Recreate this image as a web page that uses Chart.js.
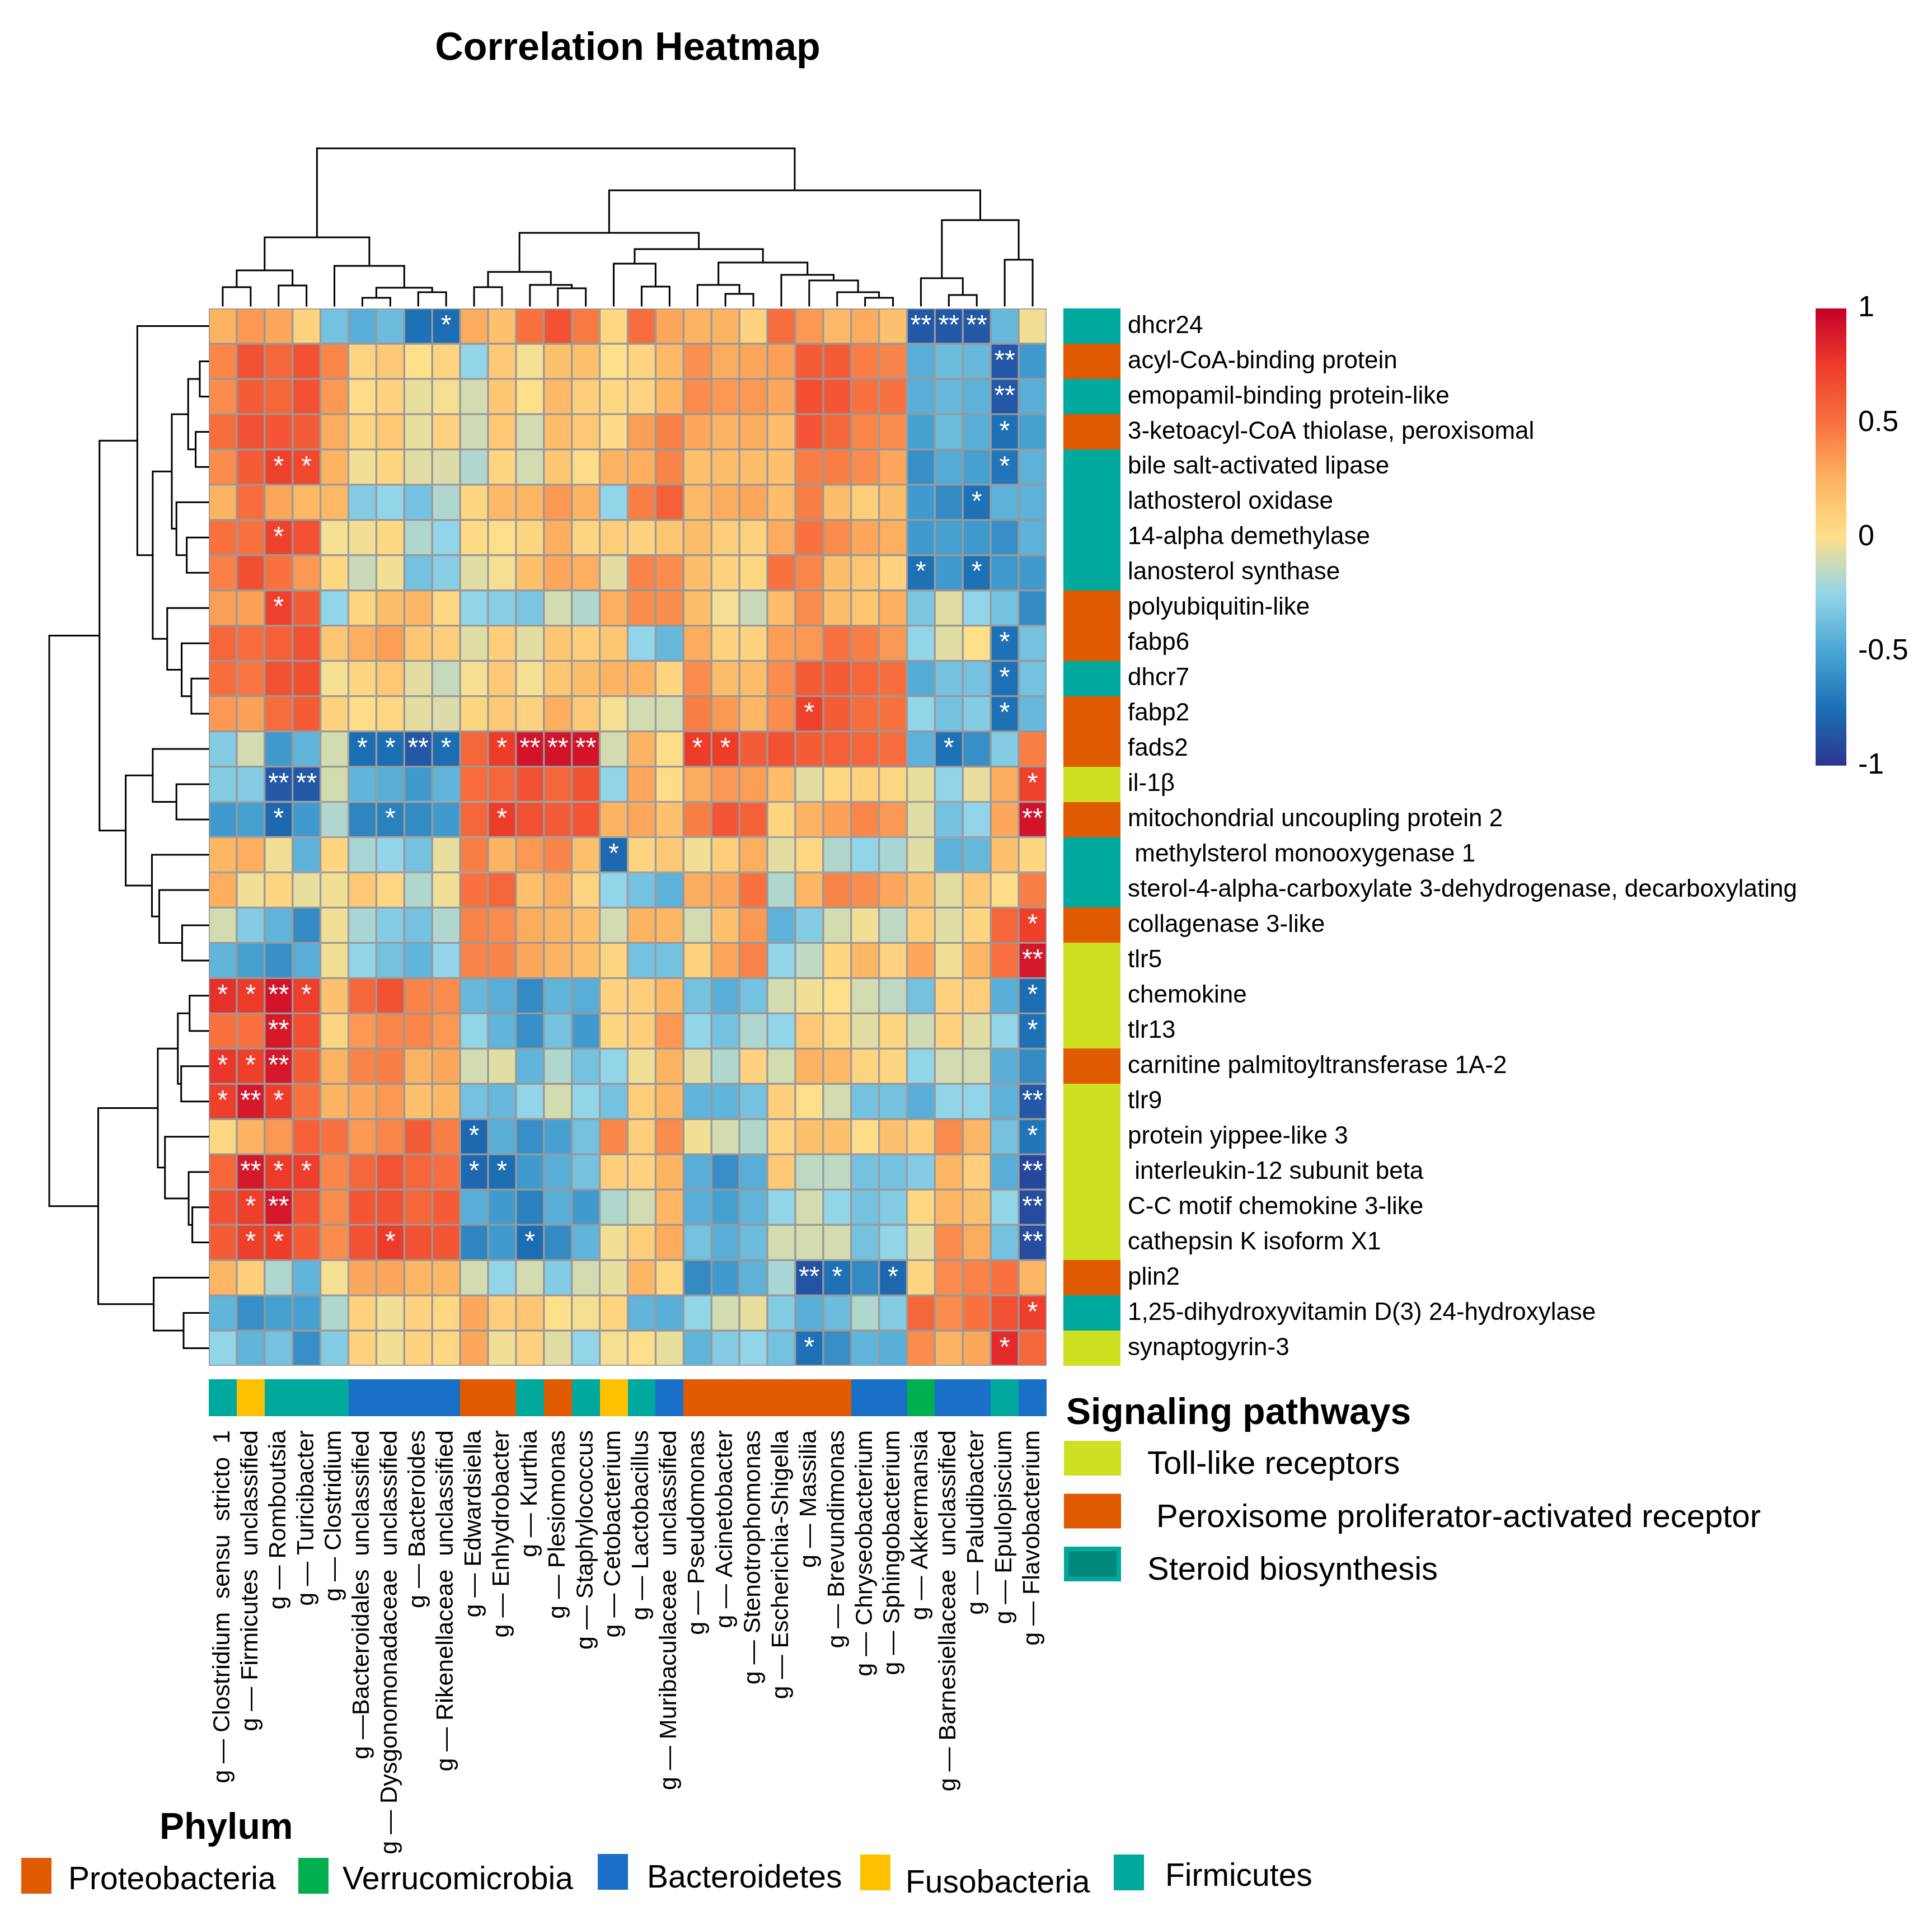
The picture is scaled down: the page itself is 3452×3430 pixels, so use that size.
<!DOCTYPE html>
<html>
<head>
<meta charset="utf-8">
<script src="https://cdn.jsdelivr.net/npm/chart.js@4.4.1/dist/chart.umd.min.js"></script>
<style>
  html, body { margin: 0; padding: 0; background: #ffffff; }
  #page { position: relative; width: 3452px; height: 3430px; background: #ffffff; }
  #mainWrap { position: absolute; left: 0; top: 0; width: 3452px; height: 3430px; }
  #cbarWrap { position: absolute; left: 3200px; top: 480px; width: 252px; height: 940px; }
</style>
</head>
<body>
<div id="page">
  <div id="mainWrap"><canvas id="main"></canvas></div>
  <div id="cbarWrap"><canvas id="cbar"></canvas></div>
</div>
<script>
// ---------------- DATA ----------------
const genes = [
  "dhcr24", "acyl-CoA-binding protein", "emopamil-binding protein-like",
  "3-ketoacyl-CoA thiolase, peroxisomal", "bile salt-activated lipase", "lathosterol oxidase",
  "14-alpha demethylase", "lanosterol synthase", "polyubiquitin-like", "fabp6", "dhcr7", "fabp2",
  "fads2", "il-1\u03B2", "mitochondrial uncoupling protein 2", " methylsterol monooxygenase 1",
  "sterol-4-alpha-carboxylate 3-dehydrogenase, decarboxylating", "collagenase 3-like", "tlr5",
  "chemokine", "tlr13", "carnitine palmitoyltransferase 1A-2", "tlr9", "protein yippee-like 3",
  " interleukin-12 subunit beta", "C-C motif chemokine 3-like", "cathepsin K isoform X1", "plin2",
  "1,25-dihydroxyvitamin D(3) 24-hydroxylase", "synaptogyrin-3"
];

const genera = [
  "g \u2014 Clostridium  sensu  stricto  1", "g \u2014 Firmicutes  unclassified", "g \u2014 Romboutsia",
  "g \u2014 Turicibacter", "g \u2014 Clostridium", "g \u2014Bacteroidales  unclassified",
  "g \u2014 Dysgonomonadaceae  unclassified", "g \u2014 Bacteroides", "g \u2014 Rikenellaceae  unclassified",
  "g \u2014 Edwardsiella", "g \u2014 Enhydrobacter", "g \u2014 Kurthia", "g \u2014 Plesiomonas",
  "g \u2014 Staphylococcus", "g \u2014 Cetobacterium", "g \u2014 Lactobacillus",
  "g \u2014 Muribaculaceae  unclassified", "g \u2014 Pseudomonas", "g \u2014 Acinetobacter",
  "g \u2014 Stenotrophomonas", "g \u2014 Escherichia-Shigella", "g \u2014 Massilia", "g \u2014 Brevundimonas",
  "g \u2014 Chryseobacterium", "g \u2014 Sphingobacterium", "g \u2014 Akkermansia",
  "g \u2014 Barnesiellaceae  unclassified", "g \u2014 Paludibacter", "g \u2014 Epulopiscium", "g \u2014 Flavobacterium"
];

// pathway of each gene: T = Toll-like receptors, P = PPAR, S = Steroid biosynthesis
const pathwayOfGene = ["S","P","S","P","S","S","S","S","P","P","S","P","P","T","P","S","S","P","T","T","T","P","T","T","T","T","T","P","S","T"];

// phylum of each genus
const phylumOfGenus = ["Firmicutes","Fusobacteria","Firmicutes","Firmicutes","Firmicutes",
  "Bacteroidetes","Bacteroidetes","Bacteroidetes","Bacteroidetes",
  "Proteobacteria","Proteobacteria","Firmicutes","Proteobacteria","Firmicutes","Fusobacteria",
  "Firmicutes","Bacteroidetes","Proteobacteria","Proteobacteria","Proteobacteria","Proteobacteria",
  "Proteobacteria","Proteobacteria","Bacteroidetes","Bacteroidetes","Verrucomicrobia",
  "Bacteroidetes","Bacteroidetes","Firmicutes","Bacteroidetes"];

// correlation values, one row per gene, one column per genus
const corr = [
 [0.25,0.35,0.3,0.08,-0.35,-0.45,-0.38,-0.74,-0.76,0.28,0.18,0.5,0.65,0.47,0.05, 0.52,0.3,0.25,0.25,0.08,0.52,0.35,0.22,0.28,0.18,-0.85,-0.85,-0.85,-0.4,-0.03],
 [0.42,0.65,0.55,0.65,0.42,0.07,0.13,0.0,0.07,-0.25,0.13,-0.02,0.18,0.18,0.0, 0.07,0.22,0.38,0.28,0.3,0.33,0.6,0.6,0.45,0.43,-0.45,-0.38,-0.4,-0.85,-0.55],
 [0.4,0.6,0.55,0.65,0.35,0.02,0.08,-0.05,-0.02,-0.1,0.15,0.0,0.22,0.1,0.05, 0.07,0.24,0.4,0.35,0.35,0.3,0.66,0.63,0.5,0.5,-0.45,-0.4,-0.43,-0.85,-0.45],
 [0.52,0.65,0.63,0.6,0.28,0.06,0.14,-0.05,0.08,-0.11,0.14,-0.1,0.2,0.14,0.03, 0.33,0.44,0.3,0.25,0.28,0.2,0.63,0.55,0.42,0.4,-0.52,-0.38,-0.45,-0.74,-0.52],
 [0.4,0.6,0.72,0.7,0.25,-0.03,0.06,-0.07,-0.08,-0.18,0.06,-0.1,0.15,0.02,0.25, 0.27,0.43,0.18,0.2,0.2,0.18,0.45,0.45,0.4,0.3,-0.6,-0.47,-0.52,-0.72,-0.43],
 [0.25,0.52,0.3,0.23,0.23,-0.3,-0.25,-0.35,-0.18,0.06,0.22,0.24,0.35,0.25,-0.25, 0.45,0.58,0.22,0.28,0.3,0.2,0.45,0.2,0.1,0.2,-0.55,-0.62,-0.74,-0.43,-0.43],
 [0.5,0.5,0.72,0.65,-0.02,-0.03,0.04,-0.18,-0.25,0.03,0.01,0.06,0.27,0.06,0.1, 0.08,0.15,0.2,0.1,0.08,0.28,0.5,0.4,0.3,0.27,-0.55,-0.52,-0.55,-0.6,-0.43],
 [0.44,0.66,0.5,0.35,0.05,-0.12,-0.03,-0.35,-0.28,-0.07,-0.02,0.18,0.3,0.27,-0.06, 0.43,0.4,0.2,0.08,0.05,0.5,0.42,0.2,0.15,0.08,-0.74,-0.55,-0.74,-0.55,-0.55],
 [0.33,0.32,0.73,0.6,-0.25,0.06,0.2,0.24,0.05,-0.25,-0.28,-0.33,-0.1,-0.18,0.27, 0.4,0.4,0.2,-0.02,-0.12,0.2,0.4,0.2,0.15,0.27,-0.33,-0.07,-0.25,-0.35,-0.62],
 [0.55,0.52,0.58,0.65,0.15,0.27,0.33,0.15,0.1,-0.07,0.1,-0.06,0.15,0.1,0.15, -0.25,-0.4,0.28,0.08,0.08,0.33,0.35,0.5,0.45,0.35,-0.25,-0.07,0.0,-0.74,-0.35],
 [0.52,0.48,0.65,0.66,-0.02,0.06,0.14,-0.06,-0.13,-0.02,0.13,-0.02,0.15,0.2,0.25, 0.25,0.06,0.4,0.2,0.2,0.4,0.6,0.6,0.55,0.52,-0.47,-0.35,-0.35,-0.74,-0.35],
 [0.35,0.32,0.52,0.6,0.08,0.02,0.05,-0.06,-0.08,0.06,0.13,0.08,0.27,0.13,-0.02, -0.1,-0.1,0.45,0.35,0.24,0.4,0.72,0.6,0.52,0.5,-0.25,-0.35,-0.3,-0.74,-0.4],
 [-0.3,-0.1,-0.55,-0.42,-0.1,-0.76,-0.76,-0.85,-0.76,0.55,0.75,0.92,0.92,0.92,-0.1, 0.25,0.02,0.75,0.75,0.6,0.65,0.6,0.58,0.55,0.52,-0.43,-0.74,-0.6,-0.3,0.45],
 [-0.3,-0.3,-0.85,-0.85,-0.1,-0.42,-0.45,-0.55,-0.42,0.53,0.55,0.65,0.55,0.65,-0.25, 0.3,0.02,0.28,0.35,0.33,0.2,-0.06,0.05,0.08,0.05,-0.05,-0.25,-0.05,0.28,0.72],
 [-0.55,-0.52,-0.78,-0.55,-0.18,-0.65,-0.67,-0.62,-0.55,0.55,0.75,0.65,0.6,0.63,0.25, 0.3,0.18,0.45,0.63,0.58,0.06,0.25,0.32,0.42,0.35,-0.07,-0.35,-0.25,0.3,0.92],
 [0.24,0.27,-0.03,-0.43,0.06,-0.2,-0.25,-0.35,-0.05,0.45,0.25,0.35,0.43,0.18,-0.78, 0.07,0.13,-0.03,0.1,0.27,-0.06,0.05,-0.18,-0.25,-0.2,-0.07,-0.43,-0.4,0.18,0.06],
 [0.27,-0.03,0.06,-0.05,-0.03,0.13,0.05,-0.18,-0.03,0.5,0.55,0.18,0.27,0.07,-0.25, -0.35,-0.43,0.28,0.3,0.5,-0.18,0.24,0.43,0.4,0.3,0.18,-0.06,0.13,0.02,0.45],
 [-0.1,-0.3,-0.42,-0.62,-0.03,-0.2,-0.3,-0.35,-0.18,0.43,0.4,0.28,0.25,0.18,-0.1, 0.25,0.24,-0.1,0.18,0.35,-0.43,-0.3,-0.1,-0.03,-0.15,0.1,-0.07,0.06,0.55,0.74],
 [-0.42,-0.52,-0.6,-0.45,-0.03,-0.25,-0.35,-0.42,-0.25,0.43,0.43,0.3,0.25,0.18,0.07, -0.35,-0.35,0.08,0.3,0.43,-0.25,-0.15,0.06,0.24,0.08,0.3,-0.03,0.24,0.5,0.9],
 [0.8,0.76,0.92,0.74,0.18,0.55,0.65,0.43,0.4,-0.4,-0.45,-0.62,-0.42,-0.45,0.08, 0.1,0.24,-0.35,-0.45,-0.35,-0.1,-0.03,0.0,-0.1,-0.15,-0.35,0.08,0.1,-0.45,-0.76],
 [0.5,0.5,0.9,0.66,0.06,0.35,0.42,0.42,0.35,-0.25,-0.42,-0.6,-0.35,-0.55,0.06, 0.1,0.35,-0.25,-0.35,-0.18,-0.25,0.13,0.05,-0.07,0.06,-0.11,0.08,-0.07,-0.25,-0.74],
 [0.77,0.74,0.9,0.6,0.25,0.43,0.45,0.25,0.3,-0.1,-0.07,-0.42,-0.18,-0.35,-0.25, -0.03,0.25,-0.07,-0.18,0.08,-0.1,0.25,0.22,0.07,0.06,-0.25,-0.1,-0.1,-0.45,-0.62],
 [0.74,0.9,0.75,0.5,0.25,0.3,0.35,0.18,0.24,-0.35,-0.4,-0.25,-0.1,-0.25,-0.35, 0.1,0.24,-0.42,-0.42,-0.35,0.1,0.01,-0.1,-0.35,-0.35,-0.45,-0.25,-0.25,-0.43,-0.85],
 [0.05,0.25,0.35,0.58,0.5,0.35,0.42,0.6,0.45,-0.78,-0.45,-0.6,-0.52,-0.35,0.42, 0.1,0.4,-0.03,-0.1,-0.18,0.07,0.18,0.18,0.02,0.18,0.1,0.4,0.24,-0.35,-0.72],
 [0.55,0.9,0.76,0.74,0.42,0.55,0.64,0.55,0.52,-0.78,-0.76,-0.55,-0.45,-0.35,0.1, 0.08,0.25,-0.45,-0.6,-0.45,0.13,-0.15,-0.15,-0.35,-0.35,-0.3,0.24,0.1,-0.45,-0.92],
 [0.65,0.74,0.9,0.65,0.4,0.63,0.65,0.55,0.6,-0.45,-0.55,-0.67,-0.45,-0.55,-0.18, -0.1,0.24,-0.45,-0.52,-0.42,-0.25,-0.1,-0.25,-0.35,-0.3,0.05,0.24,0.18,-0.25,-0.9],
 [0.6,0.74,0.75,0.6,0.4,0.65,0.76,0.65,0.63,-0.65,-0.55,-0.76,-0.62,-0.42,-0.03, 0.1,0.28,-0.35,-0.45,-0.38,-0.1,-0.1,-0.1,-0.35,-0.25,-0.05,0.4,0.28,-0.35,-0.9],
 [0.24,0.1,-0.18,-0.42,-0.02,0.3,0.3,0.24,0.24,-0.1,-0.25,-0.1,-0.3,-0.1,-0.05, 0.24,0.05,-0.62,-0.55,-0.43,-0.2,-0.87,-0.74,-0.62,-0.78,0.06,0.4,0.43,0.5,0.24],
 [-0.42,-0.6,-0.52,-0.52,-0.18,0.08,-0.03,0.08,0.05,0.3,0.1,0.15,0.01,-0.02,0.07, -0.42,-0.45,-0.25,-0.1,-0.05,-0.3,-0.45,-0.38,-0.18,-0.3,0.55,0.4,0.5,0.65,0.74],
 [-0.25,-0.42,-0.35,-0.6,-0.3,0.08,-0.03,0.08,0.05,0.3,-0.03,0.08,-0.07,-0.25,-0.02, 0.01,-0.05,-0.42,-0.3,-0.25,-0.35,-0.74,-0.6,-0.42,-0.45,0.4,0.25,0.3,0.82,0.55]
];

// significance marks: [gene row, genus column, mark]
const signif = [
 [0,8,"*"],[0,25,"**"],[0,26,"**"],[0,27,"**"],
 [1,28,"**"],[2,28,"**"],[3,28,"*"],
 [4,2,"*"],[4,3,"*"],[4,28,"*"],
 [5,27,"*"],[6,2,"*"],[7,25,"*"],[7,27,"*"],
 [8,2,"*"],[9,28,"*"],[10,28,"*"],[11,21,"*"],[11,28,"*"],
 [12,5,"*"],[12,6,"*"],[12,7,"**"],[12,8,"*"],[12,10,"*"],[12,11,"**"],[12,12,"**"],[12,13,"**"],
 [12,17,"*"],[12,18,"*"],[12,26,"*"],
 [13,2,"**"],[13,3,"**"],[13,29,"*"],
 [14,2,"*"],[14,6,"*"],[14,10,"*"],[14,29,"**"],
 [15,14,"*"],[17,29,"*"],[18,29,"**"],
 [19,0,"*"],[19,1,"*"],[19,2,"**"],[19,3,"*"],[19,29,"*"],
 [20,2,"**"],[20,29,"*"],
 [21,0,"*"],[21,1,"*"],[21,2,"**"],
 [22,0,"*"],[22,1,"**"],[22,2,"*"],[22,29,"**"],
 [23,9,"*"],[23,29,"*"],
 [24,1,"**"],[24,2,"*"],[24,3,"*"],[24,9,"*"],[24,10,"*"],[24,29,"**"],
 [25,1,"*"],[25,2,"**"],[25,29,"**"],
 [26,1,"*"],[26,2,"*"],[26,6,"*"],[26,11,"*"],[26,29,"**"],
 [27,21,"**"],[27,22,"*"],[27,24,"*"],
 [28,29,"*"],[29,21,"*"],[29,28,"*"]
];

// hierarchical clustering merges (hclust style: negative = leaf index+1, positive = earlier merge), height
const colMerges = [
 [-6,-7,0.05],[-24,-25,0.05],[-27,-28,0.068],[-19,-20,0.075],[-8,-9,0.085],[-23,2,0.085],
 [-13,-14,0.11],[1,5,0.114],[-1,-2,0.117],[-10,-11,0.117],[-16,-17,0.121],[-3,-4,0.128],
 [-12,7,0.132],[-18,4,0.132],[-22,6,0.16],[-26,3,0.174],[-21,15,0.196],[10,13,0.214],
 [9,12,0.224],[-5,8,0.253],[-15,11,0.267],[14,17,0.274],[-29,-30,0.292],[21,22,0.359],
 [19,20,0.434],[18,24,0.463],[16,23,0.544],[26,27,0.733],[25,28,1.0]
];
const rowMerges = [
 [-2,-3,0.053],[-4,-5,0.079],[-26,-27,0.1],[-11,-12,0.106],[-20,-21,0.117],[-25,3,0.123],
 [1,2,0.126],[-7,-8,0.135],[-29,-30,0.155],[-18,-19,0.164],[-10,4,0.167],[-22,-23,0.17],
 [5,12,0.191],[-6,8,0.2],[-14,-15,0.2],[7,14,0.229],[-9,11,0.258],[-24,6,0.272],
 [-17,10,0.308],[13,18,0.317],[-28,9,0.343],[16,17,0.349],[-13,15,0.349],[-16,19,0.354],
 [-1,22,0.446],[23,24,0.519],[25,26,0.684],[20,21,0.692],[27,28,1.0]
];

const colorbarTicks = [-1, -0.5, 0, 0.5, 1];

const pathwayLegend = [
  ["T", "Toll-like receptors"],
  ["P", " Peroxisome proliferator-activated receptor"],
  ["S", "Steroid biosynthesis"]
];
const phylumLegend = ["Proteobacteria", "Verrucomicrobia", "Bacteroidetes", "Fusobacteria", "Firmicutes"];

// ---------------- STYLE ----------------
const FONT = "'Liberation Sans', Arial, Helvetica, sans-serif";
const pathwayColors = { T: "#CDE022", P: "#E05A00", S: "#00A99D" };
const phylumColors = {
  Proteobacteria: "#E05A00", Verrucomicrobia: "#00B04F", Bacteroidetes: "#1A70C6",
  Fusobacteria: "#FFC000", Firmicutes: "#00A99D"
};
const paletteStops = [
  [-1, "#2B3590"], [-0.75, "#1C6FB4"], [-0.5, "#4AA5D3"], [-0.25, "#92D4E8"],
  [0, "#FEE08B"], [0.25, "#FDB462"], [0.5, "#F8713F"], [0.75, "#EE3C2B"], [1, "#C5002A"]
];

function hexRgb(h) {
  return [parseInt(h.slice(1, 3), 16), parseInt(h.slice(3, 5), 16), parseInt(h.slice(5, 7), 16)];
}
function corrColor(v) {
  v = Math.max(-1, Math.min(1, v));
  for (let i = 0; i < paletteStops.length - 1; i++) {
    const [v0, c0] = paletteStops[i], [v1, c1] = paletteStops[i + 1];
    if (v >= v0 && v <= v1) {
      const t = (v - v0) / (v1 - v0);
      const a = hexRgb(c0), b = hexRgb(c1);
      const m = a.map((x, k) => Math.round(x + (b[k] - x) * t));
      return `rgb(${m[0]},${m[1]},${m[2]})`;
    }
  }
  return paletteStops[paletteStops.length - 1][1];
}

Chart.defaults.font.family = FONT;
Chart.defaults.color = "#000000";

function drawTree(ctx, merges, leafPos, hPix, vertical) {
  const pos = [], hts = [];
  const P = k => (k < 0 ? leafPos(-k - 1) : pos[k - 1]);
  const H = k => (k < 0 ? 0 : hts[k - 1]);
  ctx.beginPath();
  merges.forEach(([a, b, h]) => {
    const pa = P(a), pb = P(b), y = hPix(h), ya = hPix(H(a)), yb = hPix(H(b));
    if (vertical) {
      ctx.moveTo(pa, ya); ctx.lineTo(pa, y); ctx.lineTo(pb, y); ctx.lineTo(pb, yb);
    } else {
      ctx.moveTo(ya, pa); ctx.lineTo(y, pa); ctx.lineTo(y, pb); ctx.lineTo(yb, pb);
    }
    pos.push((pa + pb) / 2);
    hts.push(h);
  });
  ctx.stroke();
}

const heatExtras = {
  id: "heatExtras",
  afterDatasetsDraw(chart) {
    const ctx = chart.ctx;
    ctx.save();
    ctx.fillStyle = "#ffffff";
    ctx.font = `48px ${FONT}`;
    ctx.textAlign = "center";
    ctx.textBaseline = "middle";
    signif.forEach(([r, c, s]) => {
      const el = chart.getDatasetMeta(c).data[r];
      const p = el.getCenterPoint();
      ctx.fillText(s, p.x, p.y);
    });
    ctx.restore();
  },
  afterDraw(chart) {
    const ctx = chart.ctx, ca = chart.chartArea, xs = chart.scales.x, ys = chart.scales.y;
    const band = (ca.bottom - ca.top) / genes.length;
    ctx.save();
    // dendrograms
    ctx.strokeStyle = "#000000";
    ctx.lineWidth = 3;
    ctx.lineCap = "square";
    drawTree(ctx, colMerges, i => xs.getPixelForValue(i + 0.5), h => ca.top - 5 - h * 281, true);
    drawTree(ctx, rowMerges, i => ys.getPixelForValue(i), h => ca.left - 1 - h * 284, false);

    // row annotation (signaling pathway)
    genes.forEach((g, r) => {
      const yc = ys.getPixelForValue(r);
      const y0 = Math.round(yc - band / 2), y1 = Math.round(yc + band / 2);
      ctx.fillStyle = pathwayColors[pathwayOfGene[r]];
      ctx.fillRect(Math.round(ca.right + 30), y0, 102, y1 - y0);
    });
    // column annotation (phylum)
    genera.forEach((g, c) => {
      const x0 = Math.round(xs.getPixelForValue(c)), x1 = Math.round(xs.getPixelForValue(c + 1));
      ctx.fillStyle = phylumColors[phylumOfGenus[c]];
      ctx.fillRect(x0, Math.round(ca.bottom + 24), x1 - x0, 66);
    });

    // signaling pathways legend
    ctx.fillStyle = "#000000";
    ctx.textAlign = "left";
    ctx.textBaseline = "alphabetic";
    ctx.font = `bold 66px ${FONT}`;
    ctx.fillText("Signaling pathways", 1905, 2544);
    ctx.font = `58px ${FONT}`;
    pathwayLegend.forEach(([k, label], i) => {
      const y = 2574 + i * 94.5;
      ctx.fillStyle = pathwayColors[k];
      ctx.fillRect(1901, y, 102, 62);
      if (k === "S") {
        ctx.fillStyle = "#00897B";
        ctx.fillRect(1909, y + 8, 86, 46);
      }
      ctx.fillStyle = "#000000";
      ctx.fillText(label, 2050, y + 59);
    });

    // phylum legend
    ctx.font = `bold 66px ${FONT}`;
    ctx.fillText("Phylum", 285, 3285);
    ctx.font = `57px ${FONT}`;
    const swX = [38, 533, 1068, 1537, 1990];
    const swY = [3319, 3319, 3312, 3313, 3313];
    const lbX = [122, 612, 1156, 1618, 2082];
    const lbY = [3375, 3375, 3372, 3381, 3369];
    phylumLegend.forEach((p, i) => {
      ctx.fillStyle = phylumColors[p];
      ctx.fillRect(swX[i], swY[i], 54, 64);
      ctx.fillStyle = "#000000";
      ctx.fillText(p, lbX[i], lbY[i]);
    });
    ctx.restore();
  }
};

const datasets = genera.map((g, c) => ({
  label: g,
  data: genes.map(() => 1),
  backgroundColor: genes.map((_, r) => corrColor(corr[r][c])),
  borderColor: "#999999",
  borderWidth: 2,
  borderSkipped: false,
  barPercentage: 1,
  categoryPercentage: 1
}));

new Chart(document.getElementById("main"), {
  type: "bar",
  data: { labels: genes, datasets },
  options: {
    indexAxis: "y",
    responsive: true,
    maintainAspectRatio: false,
    animation: false,
    devicePixelRatio: 1,
    events: [],
    layout: { padding: { left: 373, top: 0, right: 0, bottom: 0 } },
    plugins: {
      legend: { display: false },
      tooltip: { enabled: false },
      title: {
        display: true, text: "Correlation Heatmap", fullSize: false, color: "#000000",
        font: { size: 70, weight: "bold", family: FONT, lineHeight: 1.2 },
        padding: { top: 46, bottom: 421 }
      }
    },
    scales: {
      x: {
        type: "linear", stacked: true, min: 0, max: genera.length, position: "bottom",
        grid: { display: false, drawTicks: false }, border: { display: false },
        afterBuildTicks: s => { s.ticks = genera.map((g, i) => ({ value: i + 0.5 })); },
        afterFit: s => { s.height = 990; },
        ticks: {
          autoSkip: false, minRotation: 90, maxRotation: 90, padding: 115,
          font: { size: 43 }, color: "#000000",
          callback: (v, i) => genera[i]
        }
      },
      y: {
        type: "category", stacked: true, position: "right",
        grid: { display: false, drawTicks: false }, border: { display: false },
        afterFit: s => { s.width = 1582; },
        ticks: { autoSkip: false, padding: 145, font: { size: 44 }, color: "#000000", crossAlign: "near" }
      }
    }
  },
  plugins: [heatExtras]
});

// ---------------- colour key ----------------
new Chart(document.getElementById("cbar"), {
  type: "bar",
  data: {
    labels: ["key"],
    datasets: [{
      data: [[colorbarTicks[0], colorbarTicks[colorbarTicks.length - 1]]],
      barPercentage: 1, categoryPercentage: 1, borderWidth: 0,
      backgroundColor: (ctx) => {
        const chart = ctx.chart;
        if (!chart.chartArea) return "#cccccc";
        const ys = chart.scales.y;
        const yMin = ys.getPixelForValue(ys.min), yMax = ys.getPixelForValue(ys.max);
        const g = chart.ctx.createLinearGradient(0, yMin, 0, yMax);
        paletteStops.forEach(([v, c]) => g.addColorStop((v - ys.min) / (ys.max - ys.min), c));
        return g;
      }
    }]
  },
  options: {
    responsive: true, maintainAspectRatio: false, animation: false, devicePixelRatio: 1, events: [],
    layout: { padding: { left: 44, top: 71, right: 0, bottom: 50 } },
    plugins: { legend: { display: false }, tooltip: { enabled: false } },
    scales: {
      x: { display: false },
      y: {
        position: "right", min: -1, max: 1,
        grid: { display: false, drawTicks: false }, border: { display: false },
        afterBuildTicks: s => { s.ticks = colorbarTicks.map(v => ({ value: v })); },
        afterFit: s => { s.width = 153; },
        ticks: { padding: 21, font: { size: 52 }, color: "#000000", callback: v => String(v) }
      }
    }
  }
});
</script>
</body>
</html>
